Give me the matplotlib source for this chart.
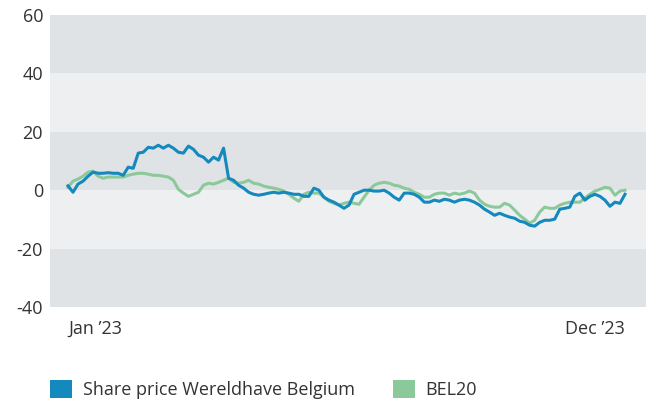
import matplotlib
matplotlib.use("Agg")
import matplotlib.pyplot as plt
from matplotlib.patches import Patch
import pandas as pd

# ---- data ----
start_date = "2023-01-02"
end_date = "2023-12-29"
series_names = ["Share price Wereldhave Belgium", "BEL20"]

wereldhave = [
    1.5, -0.7, 2.1, 3.1, 4.8, 6.2, 5.8, 5.8, 6.0, 5.8, 5.8, 5.1,
    7.9, 7.5, 12.7, 13.0, 14.7, 14.4, 15.4, 14.4, 15.4, 14.4, 13.0, 12.7,
    15.1, 14.0, 12.0, 11.3, 9.6, 11.3, 10.3, 14.4, 4.1, 3.4, 1.7, 0.7,
    -0.7, -1.4, -1.7, -1.4, -1.0, -0.7, -1.0, -0.7, -1.0, -1.4, -1.4, -2.1,
    -2.1, 0.7, 0.0, -2.4, -3.4, -4.1, -5.1, -6.2, -5.1, -1.4, -0.7, 0.0,
    0.0, -0.3, -0.3, 0.0, -1.0, -2.4, -3.4, -1.0, -1.0, -1.4, -2.4, -4.1,
    -4.1, -3.4, -3.8, -3.1, -3.4, -4.1, -3.4, -3.1, -3.4, -4.1, -5.1, -6.5,
    -7.5, -8.6, -7.9, -8.6, -9.2, -9.6, -10.6, -11.0, -12.0, -12.3, -11.0, -10.3,
    -10.3, -9.9, -6.5, -6.2, -5.8, -2.1, -1.0, -3.4, -2.1, -1.4, -2.1, -3.4,
    -5.5, -4.1, -4.5, -1.4,
]

bel20 = [
    1.0, 3.1, 3.8, 4.8, 6.2, 6.5, 4.8, 4.1, 4.5, 4.5, 4.5, 4.5,
    5.1, 5.5, 5.8, 5.8, 5.5, 5.1, 5.1, 4.8, 4.5, 3.4, 0.3, -1.0,
    -2.1, -1.4, -0.7, 1.7, 2.4, 2.1, 2.7, 3.4, 4.1, 2.7, 2.4, 2.7,
    3.4, 2.4, 2.1, 1.4, 1.0, 0.7, 0.3, -0.3, -1.4, -2.7, -3.8, -1.4,
    -0.7, -1.0, -1.0, -2.4, -3.8, -4.5, -5.1, -4.5, -4.1, -4.5, -4.8, -2.4,
    0.0, 1.7, 2.4, 2.7, 2.4, 1.7, 1.4, 0.7, 0.3, -0.7, -1.4, -2.4,
    -2.4, -1.4, -1.0, -1.0, -1.7, -1.0, -1.4, -1.0, -0.3, -1.0, -3.4, -4.8,
    -5.5, -5.8, -5.8, -4.5, -5.1, -6.8, -8.6, -9.9, -11.3, -10.3, -7.5, -5.8,
    -6.2, -6.2, -5.1, -4.5, -4.1, -4.1, -4.1, -2.7, -1.4, -0.3, 0.3, 1.0,
    0.7, -1.7, -0.3, 0.0,
]

y_ticks = [-40, -20, 0, 20, 40, 60]
x_tick_labels = ["Jan \u201923", "Dec \u201923"]

# ---- style ----
plt.rcParams["font.family"] = ["Open Sans", "DejaVu Sans"]
blue = "#1489bd"
green = "#8cc99a"
dark_band = "#e0e3e6"
light_band = "#eeeff1"
text_color = "#333333"
fs = 13

dates = pd.date_range(start_date, end_date, periods=len(wereldhave))

fig = plt.figure(figsize=(6.46, 4.0), dpi=100)
ax = fig.add_axes([50 / 646, 93 / 400, 596 / 646, 292 / 400])

for i in range(len(y_ticks) - 1):
    ax.axhspan(y_ticks[i], y_ticks[i + 1],
               color=dark_band if i % 2 == 0 else light_band, lw=0, zorder=0)

ax.plot(dates, bel20, color=green, lw=2.2, zorder=2)
ax.plot(dates, wereldhave, color=blue, lw=2.2, zorder=3)

span = dates[-1] - dates[0]
ax.set_xlim(dates[0] - span * (18 / 557), dates[-1] + span * (21 / 557))
ax.set_ylim(-40, 60)
ax.set_yticks(y_ticks)
ax.set_yticklabels([str(v) for v in y_ticks], fontsize=fs, color=text_color)
ax.set_xticks([dates[0], dates[-1]])
ax.set_xticklabels(x_tick_labels, fontsize=fs, color=text_color)
xl = ax.get_xticklabels()
xl[0].set_ha("left")
xl[1].set_ha("right")
ax.tick_params(axis="both", length=0)
ax.tick_params(axis="y", pad=5)
ax.tick_params(axis="x", pad=9)
for s in ax.spines.values():
    s.set_visible(False)

handles = [Patch(facecolor=blue, edgecolor="none"),
           Patch(facecolor=green, edgecolor="none")]
fig.legend(handles, series_names, loc="lower left",
           bbox_to_anchor=(50 / 646, 1 / 400), ncol=2, frameon=False,
           fontsize=fs, handlelength=1.22, handleheight=1.22,
           handletextpad=0.6, columnspacing=2.1, labelcolor=text_color,
           borderpad=0, borderaxespad=0)

fig.savefig("out.png", dpi=100)
